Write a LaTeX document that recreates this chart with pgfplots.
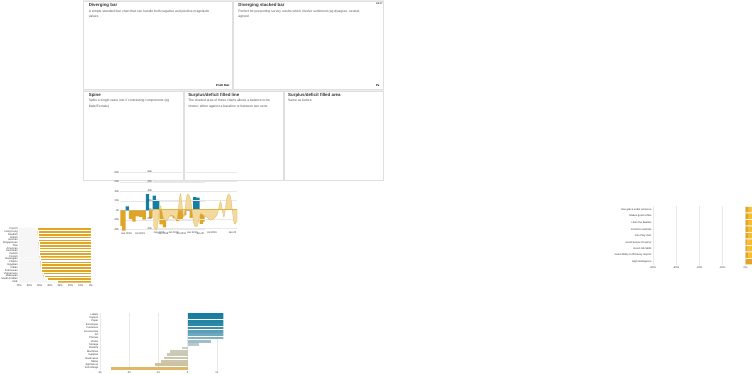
\documentclass[border=0pt]{standalone}
\usepackage{pgfplots}
\usepackage{pgfplotstable}
\pgfplotsset{compat=1.18}
\usepackage{fontspec}
\setmainfont{Liberation Sans}
\setmonofont{Liberation Mono}
\definecolor{bgc}{HTML}{ECECEC}
\definecolor{ttl}{HTML}{333333}
\definecolor{sub}{HTML}{555555}
\definecolor{dgold}{HTML}{E0A526}
\definecolor{lgold}{HTML}{FBBB2B}
\definecolor{ngray}{HTML}{AAAAAA}
\definecolor{tblue}{HTML}{147FA2}
\definecolor{afill}{HTML}{F1D9A0}
\definecolor{aline}{HTML}{E5B445}
\definecolor{c1}{HTML}{177E9F}\definecolor{c2}{HTML}{1A7FA0}\definecolor{c3}{HTML}{2384A3}
\definecolor{c4}{HTML}{2B88A6}\definecolor{c5}{HTML}{3A91AB}\definecolor{c6}{HTML}{5A9FB7}
\definecolor{c7}{HTML}{6EA8BE}\definecolor{c8}{HTML}{82B1C2}\definecolor{c9}{HTML}{A1BEC8}
\definecolor{c10}{HTML}{B6C9CD}\definecolor{c11}{HTML}{C6CFCB}\definecolor{c12}{HTML}{C9CAB8}
\definecolor{c13}{HTML}{CBC8B3}\definecolor{c14}{HTML}{CBC6AE}\definecolor{c15}{HTML}{CDC5AA}
\definecolor{c16}{HTML}{CDC3A3}\definecolor{c17}{HTML}{E0B669}
\pgfplotstableread{
off dark gold gray
-15.9 2.1 3.2 80
-20.0 2.1 7.1 80
-20.0 2.1 5.0 80
-32.6 2.7 12.4 80
-20.9 2.7 5.8 80
-20.2 1.6 6.4 80
-17.0 1.8 5.3 80
-25.7 2.3 7.3 80
-59.8 14.3 26.2 80
}\stacktab
\pgfplotsset{
  common/.style={scale only axis, axis line style={draw=none}, major tick length=0pt,
    tick label style={font=\fontsize{6.5}{7}\selectfont, text=ttl},
    /pgf/number format/assume math mode=true, grid style={gray!18, line width=0.6pt}},
}
\newcommand{\ttlnode}[3]{\node[anchor=west,text=ttl,font=\fontsize{11}{13}\selectfont\bfseries,inner sep=0pt] at (#1,#2) {#3};}
\newcommand{\subnode}[3]{\node[anchor=north west,text=sub,font=\fontsize{8.3}{13}\selectfont,inner sep=0pt,align=left] at (#1,#2) {#3};}
\begin{document}
\begin{tikzpicture}[x=1pt,y=1pt]
\fill[bgc] (0,0) rectangle (752,450);
\foreach \a/\b/\c/\d in {2/448/373/228, 376/448/750/228, 2/224/249/2, 252/224/499/2, 502/224/750/2}
  \filldraw[fill=white,draw=gray!25] (\a,\b) rectangle (\c,\d);
% titles
\ttlnode{15}{436}{Diverging bar}
\subnode{15}{426}{A simple standard bar chart that can handle both negative and positive magnitude\\values}
\ttlnode{388}{436}{Diverging stacked bar}
\subnode{388}{426}{Perfect for presenting survey results which involve sentiment (eg disagree, neutral,\\agreed}
\node[anchor=east,font=\ttfamily\fontsize{6.5}{7}\selectfont,inner sep=0pt] at (748,440) {Edit};
\ttlnode{15}{212}{Spine}
\subnode{15}{202}{Splits a single value into 2 contrasting components (eg\\Male/Female)}
\ttlnode{263}{212}{Surplus/deficit filled line}
\subnode{263}{202}{The shaded area of these charts allows a balance to be\\shown; either against a baseline or between two serie}
\ttlnode{512}{213}{Surplus/deficit filled area}
\subnode{512}{203}{Same as before.}
% Panel 1
\begin{axis}[common, at={(58,395)}, anchor=north west, width=308, height=142,
  xbar, bar width=7pt, bar shift=0pt, xmin=-30, xmax=12.2, ymin=-0.5, ymax=16.5, y dir=reverse,
  xtick={-30,-20,-10,0,10}, xmajorgrids, ytick={0,...,16},
  yticklabels={Labels,Copiers,Paper,Envelopes,Fasteners,Accessories,Art,Phones,Chairs,Storage,Binders,Machines,Supplies,Bookcases,Tables,Appliances,Furnishings}]
\addplot[fill=c1,draw=none] coordinates {(15,0)};
\addplot[fill=c2,draw=none] coordinates {(15,1)};
\addplot[fill=c3,draw=none] coordinates {(15,2)};
\addplot[fill=c4,draw=none] coordinates {(15,3)};
\addplot[fill=c5,draw=none] coordinates {(15,4)};
\addplot[fill=c6,draw=none] coordinates {(15,5)};
\addplot[fill=c7,draw=none] coordinates {(15,6)};
\addplot[fill=c8,draw=none] coordinates {(15,7)};
\addplot[fill=c9,draw=none] coordinates {(8,8)};
\addplot[fill=c10,draw=none] coordinates {(4,9)};
\addplot[fill=c11,draw=none] coordinates {(-2,10)};
\addplot[fill=c12,draw=none] coordinates {(-6,11)};
\addplot[fill=c13,draw=none] coordinates {(-7,12)};
\addplot[fill=c14,draw=none] coordinates {(-8,13)};
\addplot[fill=c15,draw=none] coordinates {(-9,14)};
\addplot[fill=c16,draw=none] coordinates {(-11,15)};
\addplot[fill=c17,draw=none] coordinates {(-26,16)};
\end{axis}
\node[anchor=base east,font=\fontsize{7}{8}\selectfont\bfseries,inner sep=0pt] at (366,234) {Profit Rati};
% Panel 2
\begin{axis}[common, at={(492,397)}, anchor=north west, width=247, height=146,
  xbar stacked, bar width=14pt, xmin=-80, xmax=5.5, ymin=-0.5, ymax=8.5, y dir=reverse,
  xtick={-80,-60,-40,-20,0}, xticklabel={\pgfmathprintnumber{\tick}\%}, xmajorgrids, ytick={0,...,8},
  yticklabels={Has grace under pressure,Makes good coffee,Likes the Beatles,Is Kind to animals,Can Play Jazz,Good Sense of Humor,Good Job Skills,Good Ability to lift heavy objects,High Intelligence}]
\addplot[fill=none,draw=none] table[x=off,y expr=\coordindex] {\stacktab};
\addplot[fill=dgold,draw=none] table[x=dark,y expr=\coordindex] {\stacktab};
\addplot[fill=lgold,draw=none] table[x=gold,y expr=\coordindex] {\stacktab};
\addplot[fill=ngray,draw=none] table[x=gray,y expr=\coordindex] {\stacktab};
\end{axis}
\node[anchor=base west,font=\fontsize{7}{8}\selectfont\bfseries,inner sep=0pt] at (731,234) {Pe};
% Panel 3
\begin{axis}[common, at={(62,169.5)}, anchor=north west, width=179, height=138,
  xbar, bar width=6.2pt, bar shift=0pt, xmin=0, xmax=70, x dir=reverse, ymin=-0.5, ymax=19.5, y dir=reverse,
  xtick={0,10,...,70}, xticklabel={\pgfmathprintnumber{\tick}\%}, ytick={0,...,19},
  yticklabels={French,Hong Kong,Swedish,British,German,Singaporean,Thai,American,Australian,Danish,Finnish,Norwegian,Filipino,Egyptian,Indian,Indonesian,Vietnamese,Malaysian,Saudi Arabian,UAE}]
\addplot[fill=gray!7,draw=none] coordinates {(100,0)(100,1)(100,2)(100,3)(100,4)(100,5)(100,6)(100,7)(100,8)(100,9)(100,10)(100,11)(100,12)(100,13)(100,14)(100,15)(100,16)(100,17)(100,18)(100,19)};
\addplot[fill=dgold,draw=white,line width=0.3pt] coordinates {(52.3,0)(52.0,1)(51.7,2)(51.6,3)(51.5,4)(50.9,5)(50.8,6)(50.7,7)(50.4,8)(50.1,9)(50.0,10)(49.2,11)(49.1,12)(49.1,13)(48.9,14)(48.4,15)(47.1,16)(46.0,17)(42.8,18)(33.0,19)};
\end{axis}
% Panel 4
\begin{axis}[common, at={(281,169)}, anchor=north west, width=210, height=147,
  xmin=92, xmax=722, ymin=-45, ymax=80, ytick={-40,-20,0,20,40,60,80},
  yticklabel={\pgfmathprintnumber{\tick}k}, ymajorgrids,
  xtick={138,240,412,548,690}, xticklabels={Jan 2015,Jul 2015,Jan 2016,Jul 2016,Jan 20}]
\addplot[ybar interval, fill=dgold, draw=none] coordinates {(92,-33)(106,-43)(132,0)(156,-19)(182,-24)(206,-13)(232,-14)(258,-20)(284,0)(308,-16)(334,0)(358,0)(384,-30)(410,-36)(434,-9)(460,-13)(484,-17)(510,-23)(534,-19)(560,-11)(586,0)(610,-16)(636,0)(660,0)(686,-29)(712,-24)(722,0)};
\addplot[ybar interval, fill=tblue, draw=none] coordinates {(92,0)(106,0)(132,8)(156,0)(182,0)(206,0)(232,0)(258,0)(284,34)(308,0)(334,31)(358,22)(384,0)(410,0)(434,0)(460,0)(484,0)(510,0)(534,0)(560,0)(586,17)(610,0)(636,28)(660,27)(686,0)(712,0)(722,0)};
\end{axis}
% Panel 5
\begin{axis}[common, at={(530,182)}, anchor=north west, width=209, height=146,
  xmin=92, xmax=722, ymin=-45, ymax=80, ytick={-40,-20,0,20,40,60,80},
  yticklabel={\pgfmathprintnumber{\tick}k}, ymajorgrids,
  xtick={136,245,386,533,687}, xticklabels={Jan 2015,Jul 2015,Jan 2016,Jul 2016,Jan 20}]
\addplot[smooth, tension=0.45, fill=afill, draw=aline, line width=0.7pt] coordinates {(92,-33)(119,-43)(144,8)(169,-19)(194,-24)(219,-13)(245,-14)(271,-20)(296,34)(321,-16)(346,31)(371,22)(397,-30)(422,-36)(447,-9)(472,-13)(497,-17)(522,-23)(547,-19)(573,-11)(598,17)(623,-16)(648,28)(673,27)(699,-29)(722,-24)} \closedcycle;
\addplot[aline, line width=0.8pt] coordinates {(92,0)(722,0)};
\end{axis}
\end{tikzpicture}
\end{document}
